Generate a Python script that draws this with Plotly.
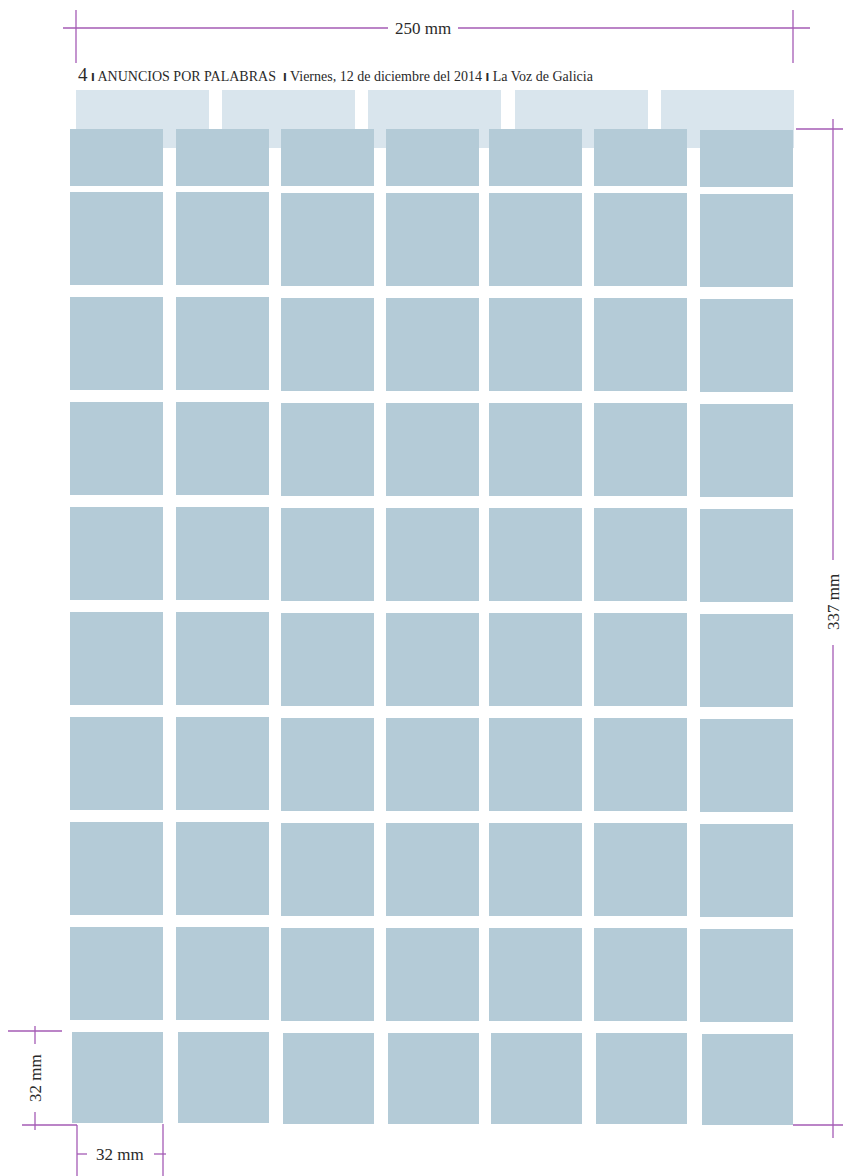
import plotly.graph_objects as go

# ---- data: page layout grid (pixel units of the diagram) ----
col_left = [70, 176, 281, 386, 489, 594, 700]
col_dy = [0, 0, 1, 1, 1, 1, 2]
col_width = 93
row_top = [129, 192, 297, 402, 507, 612, 717, 822, 927, 1032]
row_height = [57, 93, 93, 93, 93, 93, 93, 93, 93, 91]
last_row_shift = 2

header_left = [76, 222, 368, 515, 661]
header_width = 133
header_top, header_bottom = 90, 148

dim_labels = ["250 mm", "337 mm", "32 mm", "32 mm"]
header_parts = ["4", "ANUNCIOS POR PALABRAS", "Viernes, 12 de diciembre del 2014", "La Voz de Galicia"]

W, H = 843, 1176
BOX = "#b4cbd7"
LIGHT = "#d9e5ed"
PURPLE = "#a55bb5"
FONT = "Liberation Serif"

fig = go.Figure()
shapes = []

# light header boxes
for xl in header_left:
    shapes.append(dict(type="rect", x0=xl, x1=xl + header_width, y0=header_top, y1=header_bottom,
                       fillcolor=LIGHT, line=dict(width=0), layer="below"))

# grid boxes
for ri, (yt, hh) in enumerate(zip(row_top, row_height)):
    for ci, xl in enumerate(col_left):
        x0 = xl + (last_row_shift if ri == len(row_top) - 1 else 0)
        x1 = xl + col_width
        y0 = yt + (col_dy[ci] if ri > 0 else col_dy[ci] // 2)
        shapes.append(dict(type="rect", x0=x0, x1=x1, y0=y0, y1=y0 + hh,
                           fillcolor=BOX, line=dict(width=0), layer="below"))

def seg(x0, y0, x1, y1):
    shapes.append(dict(type="line", x0=x0, y0=y0, x1=x1, y1=y1,
                       line=dict(color=PURPLE, width=1.3)))

# top dimension (250 mm)
seg(63, 28, 388, 28); seg(458, 28, 810, 28)
seg(76, 10, 76, 63); seg(793, 10, 793, 63)
# right dimension (337 mm)
seg(833, 119, 833, 560); seg(833, 645, 833, 1138)
seg(796, 129, 843, 129); seg(793, 1125, 843, 1125)
# bottom-left vertical (32 mm)
seg(35, 1026, 35, 1044); seg(35, 1112, 35, 1130)
seg(8, 1031, 62, 1031); seg(22, 1125, 77, 1125)
# bottom horizontal (32 mm)
seg(77, 1125, 77, 1176); seg(163, 1124, 163, 1176)
seg(77, 1154, 87, 1154); seg(154, 1154, 166, 1154)

fig.update_layout(shapes=shapes)

annots = [
    dict(x=423, y=28, text=dim_labels[0], font=dict(size=17)),
    dict(x=833, y=602, text=dim_labels[1], font=dict(size=17), textangle=-90),
    dict(x=35, y=1078, text=dim_labels[2], font=dict(size=17), textangle=-90),
    dict(x=120, y=1154, text=dim_labels[3], font=dict(size=17)),
]
bar = "<span style='font-family:DejaVu Sans;font-size:11px'><b>l</b></span>"
header_text = (f"<span style='font-size:19px'>{header_parts[0]}</span> {bar} {header_parts[1]}  {bar} "
               f"{header_parts[2]} {bar} {header_parts[3]}")
annots.append(dict(x=76, y=74, text=header_text, xanchor="left", font=dict(size=14)))

for a in annots:
    a.setdefault("xanchor", "center")
    a.update(xref="x", yref="y", yanchor="middle", showarrow=False)
    a["font"] = dict(family=FONT, color="#2a2a2a", **a["font"])
fig.update_layout(annotations=annots)

fig.update_xaxes(range=[0, W], visible=False, fixedrange=True)
fig.update_yaxes(range=[H, 0], visible=False, fixedrange=True)
fig.update_layout(width=W, height=H, margin=dict(l=0, r=0, t=0, b=0),
                  paper_bgcolor="white", plot_bgcolor="white", showlegend=False)

fig.write_html("out.html", config={"displayModeBar": False, "staticPlot": True},
               post_script="document.body.style.margin='0';document.body.style.overflow='hidden';")
